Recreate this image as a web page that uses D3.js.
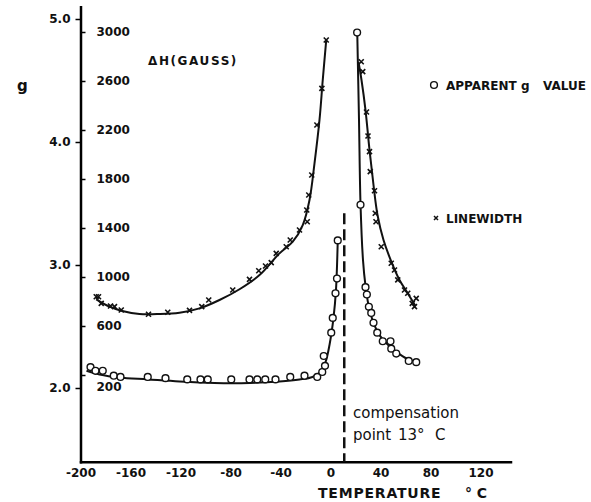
<!DOCTYPE html>
<html>
<head>
<meta charset="utf-8">
<script src="https://cdn.jsdelivr.net/npm/d3@7"></script>
<style>
	body { margin: 0; background: #fff; }
	text { font-family: "DejaVu Sans", sans-serif; fill: #111; }
</style>
</head>
<body>
<div class="chart"></div>
<script>
// ticks
const tempTicks = [-200, -160, -120, -80, -40, 0, 40, 80, 120];
const gTicks = [2, 3, 4, 5];
const widthTicks = [200, 600, 1000, 1400, 1800, 2200, 2600, 3000];

// apparent g value, [temperature, g]
const gPointsLow = [
	[-192, 2.17], [-188, 2.14], [-182.2, 2.14], [-173.4, 2.1], [-168, 2.09],
	[-146.2, 2.09], [-132, 2.08], [-114.6, 2.07], [-104, 2.07], [-98.2, 2.07],
	[-79.4, 2.07], [-64.8, 2.07], [-58.6, 2.07], [-52.2, 2.07], [-44, 2.07],
	[-32.2, 2.09], [-20.8, 2.1], [-10.6, 2.09], [-6.6, 2.13], [-4.4, 2.18],
	[-5.4, 2.26], [0.6, 2.45], [1.8, 2.57], [4, 2.77], [5.2, 2.89], [5.8, 3.2]
];
const gPointsHigh = [
	[21.3, 4.89], [24, 3.49], [28, 2.82], [29.1, 2.76], [30.7, 2.66], [32.6, 2.61],
	[34.4, 2.53], [37.4, 2.45], [41.8, 2.38], [48, 2.38], [48.6, 2.32], [52.6, 2.28],
	[62.6, 2.22], [68.6, 2.21]
];
const gFitLow = [
	[-195.2, 2.14], [-184.8, 2.11], [-168.8, 2.085], [-146.4, 2.07], [-120.8, 2.053],
	[-92.8, 2.041], [-64.8, 2.041], [-40.8, 2.053], [-24.8, 2.069], [-14.4, 2.089],
	[-8, 2.13], [-4, 2.21], [-0.8, 2.35], [2.4, 2.57], [4.4, 2.8], [5.8, 3.2]
];
const gFitHigh = [
	[21.4, 4.89], [22.8, 4.18], [24, 3.5], [26, 3.04], [28, 2.83], [30.4, 2.675],
	[34.4, 2.53], [39.2, 2.43], [47.2, 2.34], [55.2, 2.276], [63.2, 2.228], [68.8, 2.211]
];

// linewidth, [temperature, gauss]
const lwPointsLow = [
	[-187.4, 839], [-185.6, 839], [-183.4, 785], [-176, 763], [-172.8, 758], [-167.4, 731],
	[-145.6, 696], [-130.2, 712], [-112.8, 728], [-103, 758], [-97.4, 812], [-78.2, 894],
	[-64.8, 981], [-57.4, 1051], [-52, 1090], [-47.4, 1117], [-43.4, 1193], [-35.4, 1247],
	[-32.2, 1302], [-24.8, 1384], [-18.6, 1451], [-19, 1547], [-17.4, 1669], [-15, 1833],
	[-10.9, 2241], [-6.9, 2540], [-3.4, 2935]
];
const lwPointsHigh = [
	[24.6, 2757], [25.8, 2676], [28.8, 2347], [30, 2151], [31.2, 2023], [31.8, 1860],
	[35.2, 1704], [35.8, 1520], [36.4, 1451], [40.6, 1247], [48.6, 1112], [51.2, 1057],
	[53.8, 976], [59.2, 894], [61.8, 867], [68.6, 826], [65.4, 785], [67.2, 758]
];
const lwFitLow = [
	[-187.4, 818], [-176.8, 758], [-167.4, 725], [-152.8, 698], [-136.8, 698], [-120.8, 709],
	[-104.8, 744], [-88.8, 812], [-72.8, 900], [-56.8, 1016], [-40.8, 1193], [-30.2, 1288],
	[-22.2, 1424], [-16.8, 1629], [-12.8, 1928], [-8.8, 2282], [-6.2, 2608], [-3.4, 2935]
];
const lwFitHigh = [
	[22.4, 2755], [24.8, 2608], [28, 2363], [31.2, 2037], [34.4, 1751], [37.6, 1506],
	[42.4, 1302], [48.8, 1122], [55.2, 976], [61.6, 870], [68, 763]
];

const compensationT = 11;

const width = 591, height = 502;

const svg = d3.select(".chart")
	.append("svg")
	.attr("width", width)
	.attr("height", height);

const x = d3.scaleLinear().domain([-200, 144]).range([80.5, 510.5]);
const yG = d3.scaleLinear().domain([1.4, 5.1]).range([461.8, 6.7]);
const yH = d3.scaleLinear().domain([-508.6, 3206.5]).range([461.8, 6.7]);

const axisFont = (g) => g.attr("font-family", "DejaVu Sans").attr("font-size", 12).attr("font-weight", "bold");

// X axis
svg.append("g")
	.attr("transform", "translate(0," + yG(1.4) + ")")
	.call(d3.axisBottom(x).tickValues(tempTicks).tickSize(0).tickSizeOuter(0).tickPadding(6.5).tickFormat((d) => String(d)))
	.call(axisFont)
	.call((g) => g.select(".domain").attr("stroke-width", 2.5).attr("stroke-linecap", "square"));

// g axis
svg.append("g")
	.attr("transform", "translate(" + x(-200) + ",0)")
	.call(d3.axisLeft(yG).tickValues(gTicks).tickSize(5).tickSizeOuter(0).tickPadding(5).tickFormat(d3.format(".1f")))
	.call(axisFont)
	.call((g) => g.select(".domain").attr("stroke-width", 2.5).attr("stroke-linecap", "square"))
	.call((g) => g.selectAll(".tick line").attr("stroke-width", 1.5));

// linewidth axis
svg.append("g")
	.attr("transform", "translate(" + x(-200) + ",0)")
	.call(d3.axisRight(yH).tickValues(widthTicks).tickSize(5).tickPadding(11).tickFormat((d) => String(d)))
	.call(axisFont)
	.call((g) => g.select(".domain").remove())
	.call((g) => g.selectAll(".tick line").attr("stroke-width", 1.5))
	.call((g) => g.selectAll(".tick text").filter((d) => d === 200).attr("y", 12));

// curves
const line = (yScale) => d3.line()
	.x((d) => x(d[0]))
	.y((d) => yScale(d[1]))
	.curve(d3.curveCatmullRom.alpha(0.5));

[[gFitLow, yG], [gFitHigh, yG], [lwFitLow, yH], [lwFitHigh, yH]].forEach(([data, s]) => {
	svg.append("path")
		.datum(data)
		.attr("fill", "none")
		.attr("stroke", "#111")
		.attr("stroke-width", 2)
		.attr("d", line(s));
});

// markers
svg.append("g")
	.selectAll("circle")
	.data(gPointsLow.concat(gPointsHigh))
	.enter()
	.append("circle")
	.attr("cx", (d) => x(d[0]))
	.attr("cy", (d) => yG(d[1]))
	.attr("r", 3.4)
	.attr("fill", "#fff")
	.attr("stroke", "#111")
	.attr("stroke-width", 1.4);

const cross = "M-2.5,-2.5L2.5,2.5M-2.5,2.5L2.5,-2.5";
svg.append("g")
	.selectAll("path")
	.data(lwPointsLow.concat(lwPointsHigh))
	.enter()
	.append("path")
	.attr("transform", (d) => "translate(" + x(d[0]) + "," + yH(d[1]) + ")")
	.attr("d", cross)
	.attr("stroke", "#111")
	.attr("stroke-width", 1.6);

// compensation point
svg.append("line")
	.attr("x1", x(compensationT))
	.attr("x2", x(compensationT))
	.attr("y1", yG(3.42))
	.attr("y2", yG(1.4))
	.attr("stroke", "#111")
	.attr("stroke-width", 2.5)
	.attr("stroke-dasharray", "11,5");

svg.append("text")
	.attr("x", 353)
	.attr("y", 418)
	.style("font-size", "15px")
	.text("compensation");

svg.append("text")
	.attr("y", 440)
	.style("font-size", "15px")
	.call((t) => t.append("tspan").attr("x", 353).text("point"))
	.call((t) => t.append("tspan").attr("x", 398).text("13°"))
	.call((t) => t.append("tspan").attr("x", 435).text("C"));

// axis titles
svg.append("text")
	.attr("x", 17)
	.attr("y", 91)
	.style("font", "bold 15px 'DejaVu Sans'")
	.text("g");

svg.append("text")
	.attr("x", 148)
	.attr("y", 65)
	.style("font", "bold 12px 'DejaVu Sans'")
	.style("letter-spacing", "1.6px")
	.text("ΔH(GAUSS)");

svg.append("text")
	.attr("x", 318)
	.attr("y", 498)
	.style("font", "bold 14px 'DejaVu Sans'")
	.style("letter-spacing", "0.8px")
	.text("TEMPERATURE");

svg.append("text")
	.attr("x", 465)
	.attr("y", 498)
	.style("font", "bold 14px 'DejaVu Sans'")
	.text("° C");

// legend
svg.append("circle")
	.attr("cx", 434)
	.attr("cy", 85)
	.attr("r", 3.4)
	.attr("fill", "#fff")
	.attr("stroke", "#111")
	.attr("stroke-width", 1.4);

svg.append("text")
	.attr("y", 89.5)
	.style("font", "bold 12px 'DejaVu Sans'")
	.call((t) => t.append("tspan").attr("x", 446).text("APPARENT"))
	.call((t) => t.append("tspan").attr("x", 521).text("g"))
	.call((t) => t.append("tspan").attr("x", 543).text("VALUE"));

svg.append("path")
	.attr("transform", "translate(436,218)")
	.attr("d", "M-2,-2L2,2M-2,2L2,-2")
	.attr("stroke", "#111")
	.attr("stroke-width", 1.5);

svg.append("text")
	.attr("x", 446)
	.attr("y", 222.5)
	.style("font", "bold 12px 'DejaVu Sans'")
	.text("LINEWIDTH");
</script>
</body>
</html>
